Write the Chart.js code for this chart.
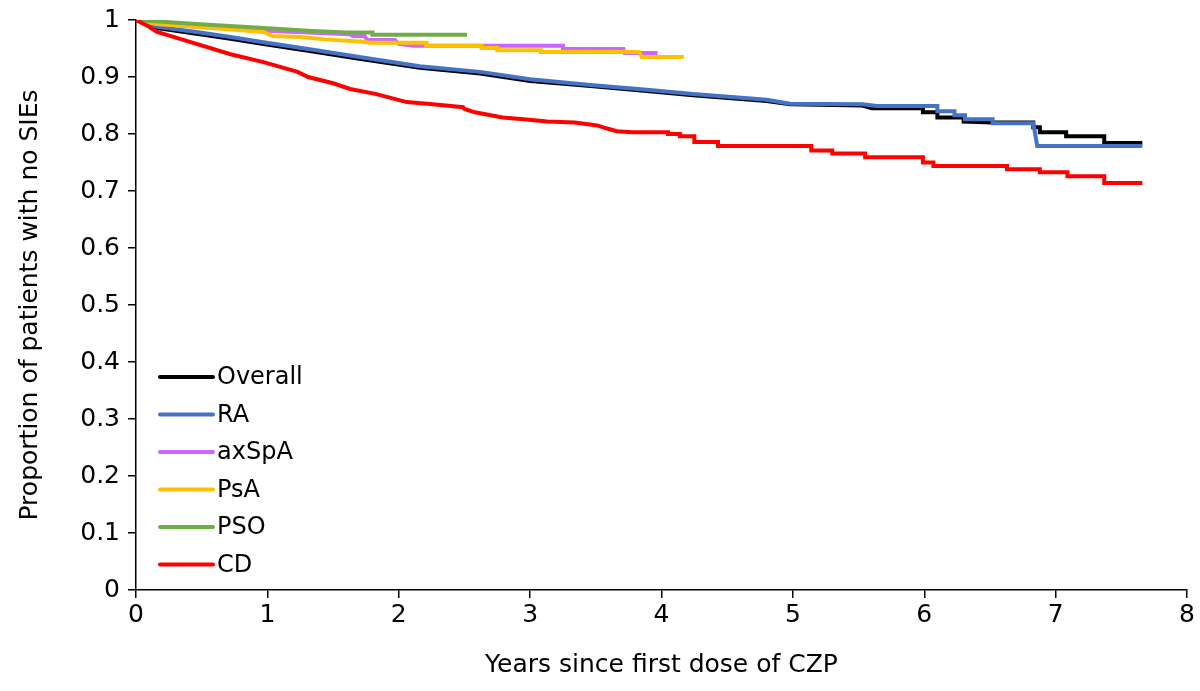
<!DOCTYPE html>
<html>
<head>
<meta charset="utf-8">
<title>Proportion of patients with no SIEs</title>
<script src="https://cdn.jsdelivr.net/npm/chart.js@4.4.1/dist/chart.umd.min.js"></script>
<style>
  html, body { margin: 0; padding: 0; background: #fff; }
  #wrap { width: 1200px; height: 691px; }
</style>
</head>
<body>
<div id="wrap"><canvas id="kmChart" width="1200" height="691"></canvas></div>
<script>
// Series names (legend order)
const seriesNames = ['Overall', 'RA', 'axSpA', 'PsA', 'PSO', 'CD'];

// Kaplan-Meier points [years, proportion]
const overallPts = [
    [0, 1], [0.16, 0.986], [0.46, 0.976], [0.72, 0.967], [0.97, 0.958], [1.31, 0.946],
    [1.70, 0.932], [2.16, 0.916], [2.62, 0.906], [3.00, 0.893], [3.46, 0.884], [3.91, 0.875],
    [4.24, 0.868], [4.80, 0.858], [4.98, 0.852], [5.53, 0.850], [5.60, 0.845], [5.99, 0.845],
    [5.99, 0.838], [6.10, 0.838], [6.10, 0.829], [6.30, 0.829], [6.30, 0.822], [6.52, 0.820],
    [6.83, 0.820], [6.83, 0.812], [6.88, 0.812], [6.88, 0.803], [7.08, 0.803], [7.08, 0.796],
    [7.37, 0.796], [7.37, 0.784], [7.66, 0.784]
];
const raPts = [
    [0, 1], [0.16, 0.988], [0.46, 0.979], [0.72, 0.970], [0.97, 0.961], [1.31, 0.949],
    [1.70, 0.935], [2.16, 0.919], [2.62, 0.909], [3.00, 0.896], [3.46, 0.886], [3.91, 0.877],
    [4.24, 0.870], [4.80, 0.860], [4.98, 0.853], [5.53, 0.852], [5.64, 0.849], [6.10, 0.849],
    [6.10, 0.840], [6.23, 0.840], [6.23, 0.833], [6.31, 0.833], [6.31, 0.826], [6.52, 0.826],
    [6.52, 0.819], [6.83, 0.819], [6.86, 0.779], [7.66, 0.779]
];
const axspaPts = [
    [0, 1], [0.16, 0.993], [0.46, 0.988], [0.97, 0.981], [1.31, 0.978], [1.63, 0.975],
    [1.65, 0.972], [1.74, 0.972], [1.76, 0.965], [1.97, 0.965], [2.00, 0.958], [2.11, 0.955],
    [3.25, 0.955], [3.25, 0.949], [3.71, 0.949], [3.72, 0.942], [3.97, 0.942]
];
const psaPts = [
    [0, 1], [0.16, 0.993], [0.46, 0.988], [0.97, 0.979], [1.04, 0.972], [1.25, 0.970],
    [1.44, 0.966], [1.73, 0.962], [1.78, 0.960], [2.21, 0.960], [2.21, 0.955], [2.63, 0.955],
    [2.63, 0.951], [2.75, 0.951], [2.75, 0.947], [3.08, 0.947], [3.08, 0.944], [3.83, 0.944],
    [3.85, 0.935], [4.17, 0.935]
];
const psoPts = [
    [0, 1], [0.46, 0.993], [0.97, 0.986], [1.31, 0.981], [1.60, 0.978], [1.80, 0.978],
    [1.80, 0.974], [2.52, 0.974]
];
const cdPts = [
    [0, 1], [0.10, 0.988], [0.16, 0.979], [0.26, 0.972], [0.46, 0.958], [0.72, 0.940],
    [0.97, 0.926], [1.23, 0.909], [1.31, 0.900], [1.50, 0.889], [1.63, 0.879], [1.83, 0.870],
    [2.06, 0.856], [2.26, 0.852], [2.49, 0.847], [2.50, 0.844], [2.58, 0.838], [2.79, 0.829],
    [2.95, 0.826], [3.13, 0.822], [3.34, 0.820], [3.51, 0.815], [3.58, 0.810], [3.66, 0.805],
    [3.78, 0.803], [4.05, 0.803], [4.05, 0.800], [4.14, 0.800], [4.14, 0.796], [4.25, 0.796],
    [4.25, 0.786], [4.43, 0.786], [4.43, 0.779], [5.14, 0.779], [5.14, 0.771], [5.30, 0.771],
    [5.30, 0.766], [5.55, 0.766], [5.55, 0.759], [5.99, 0.759], [5.99, 0.750], [6.07, 0.750],
    [6.07, 0.744], [6.63, 0.744], [6.63, 0.738], [6.88, 0.738], [6.88, 0.733], [7.09, 0.733],
    [7.09, 0.726], [7.37, 0.726], [7.37, 0.714], [7.66, 0.714]
];

// Axis ticks
const xTicks = [0, 1, 2, 3, 4, 5, 6, 7, 8];
const yTicks = [0, 0.1, 0.2, 0.3, 0.4, 0.5, 0.6, 0.7, 0.8, 0.9, 1];

const seriesPts = [overallPts, raPts, axspaPts, psaPts, psoPts, cdPts];
const seriesColors = ['#000000', '#4472C4', '#CC66FF', '#FFC000', '#70AD47', '#FF0000'];

const FONT = '"DejaVu Sans", Verdana, sans-serif';

// Legend drawn inside the plot area (bottom left), like the original
const insideLegend = {
    id: 'insideLegend',
    afterDatasetsDraw(chart) {
        const ctx = chart.ctx;
        const x0 = chart.chartArea.left + 24;
        const y0 = 377;
        const rowH = 37.5;
        ctx.save();
        ctx.font = '24px ' + FONT;
        ctx.textBaseline = 'middle';
        chart.data.datasets.forEach((ds, i) => {
            const y = y0 + i * rowH;
            ctx.strokeStyle = ds.borderColor;
            ctx.lineWidth = 4;
            ctx.lineCap = 'round';
            ctx.beginPath();
            ctx.moveTo(x0, y);
            ctx.lineTo(x0 + 53, y);
            ctx.stroke();
            ctx.fillStyle = '#000';
            ctx.fillText(ds.label, x0 + 57, y + 1);
        });
        ctx.restore();
    }
};

const datasets = seriesNames.map((name, i) => ({
    label: name,
    data: seriesPts[i].map(p => ({ x: p[0], y: p[1] })),
    borderColor: seriesColors[i],
    backgroundColor: seriesColors[i],
    borderWidth: 4,
    pointRadius: 0,
    tension: 0,
    fill: false,
    order: seriesNames.length - i   // later series on top, as in the source
}));

Chart.defaults.font.family = FONT;
Chart.defaults.color = '#000';

new Chart(document.getElementById('kmChart').getContext('2d'), {
    type: 'line',
    data: { datasets: datasets },
    options: {
        responsive: false,
        animation: false,
        layout: { padding: { top: 20, right: 13, left: 0, bottom: 0 } },
        plugins: {
            legend: { display: false },
            tooltip: { enabled: false }
        },
        scales: {
            x: {
                type: 'linear',
                min: 0,
                max: 8,
                afterBuildTicks: axis => { axis.ticks = xTicks.map(v => ({ value: v })); },
                afterFit: axis => { axis.height = 101; axis.paddingLeft = 0; axis.paddingRight = 0; },
                grid: { drawOnChartArea: false, drawTicks: true, tickLength: 8, color: '#000', lineWidth: 1.5 },
                border: { color: '#000', width: 1.5 },
                ticks: { font: { size: 25 }, padding: 2, maxRotation: 0, color: '#000' },
                title: { display: true, text: 'Years since first dose of CZP', font: { size: 25 }, padding: { top: 0, bottom: 11 }, color: '#000' }
            },
            y: {
                type: 'linear',
                min: 0,
                max: 1,
                afterBuildTicks: axis => { axis.ticks = yTicks.map(v => ({ value: v })); },
                afterFit: axis => { axis.width = 136; axis.paddingTop = 0; axis.paddingBottom = 0; },
                grid: { drawOnChartArea: false, drawTicks: true, tickLength: 8, color: '#000', lineWidth: 1.5 },
                border: { color: '#000', width: 1.5 },
                ticks: {
                    font: { size: 25 },
                    padding: 8,
                    color: '#000',
                    callback: v => String(Math.round(v * 10) / 10)
                },
                title: { display: true, text: 'Proportion of patients with no SIEs', font: { size: 25 }, padding: { top: 15, bottom: 0 }, color: '#000' }
            }
        }
    },
    plugins: [insideLegend]
});
</script>
</body>
</html>
